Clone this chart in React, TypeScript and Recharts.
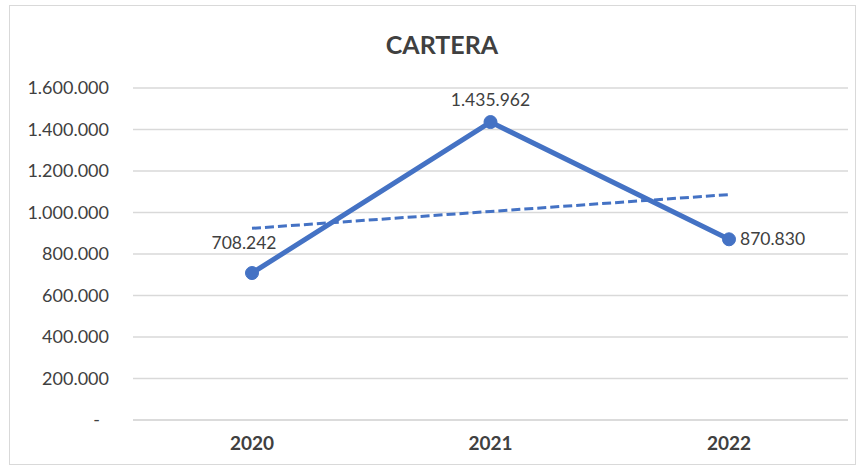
import React from "react";
import {
  LineChart,
  Line,
  XAxis,
  YAxis,
  CartesianGrid,
  LabelList,
} from "recharts";

const years = ["2020", "2021", "2022"];
const carteraValues = [708242, 1435962, 870830];
// tendencia lineal
const trendValues = [923700, 1005000, 1086300];
const yTicks = [0, 200000, 400000, 600000, 800000, 1000000, 1200000, 1400000, 1600000];

const data = years.map((year, i) => ({
  year,
  cartera: carteraValues[i],
  trend: trendValues[i],
}));

const FONT = "Lato, 'Open Sans', sans-serif";
const TEXT = "#404040";
const BLUE = "#4472C4";

function fmt(v: number) {
  return String(Math.round(v)).replace(/\B(?=(\d{3})+(?!\d))/g, ".");
}

function YTick(props: any) {
  const { x, y, payload } = props;
  const isZero = payload.value === 0;
  return (
    <text
      x={isZero ? x - 9 : x}
      y={y}
      dy="0.35em"
      textAnchor="end"
      fill={TEXT}
      fontSize={18}
      fontFamily={FONT}
    >
      {isZero ? "-" : fmt(payload.value)}
    </text>
  );
}

function PointLabel(props: any) {
  const { x, y, value, index } = props;
  let tx = x;
  let ty = y - 22;
  let anchor: "start" | "middle" | "end" = "middle";
  if (index === 0) {
    tx = x - 8;
    ty = y - 30;
  } else if (index === 2) {
    tx = x + 11;
    ty = y;
    anchor = "start";
  }
  return (
    <text
      x={tx}
      y={ty}
      dy="0.35em"
      textAnchor={anchor}
      fill={TEXT}
      fontSize={17.5}
      fontFamily={FONT}
    >
      {fmt(value)}
    </text>
  );
}

export default function App() {
  return (
    <div
      style={{
        position: "absolute",
        left: 0,
        top: 0,
        width: 859,
        height: 468,
        background: "#fff",
      }}
    >
      <div
        style={{
          position: "absolute",
          left: 9,
          top: 5,
          width: 847,
          height: 460,
          border: "1px solid #d9d9d9",
          boxSizing: "border-box",
        }}
      />
      <div
        style={{
          position: "absolute",
          left: 0,
          top: 29,
          width: 884,
          textAlign: "center",
          fontFamily: FONT,
          fontWeight: 700,
          fontSize: 25,
          color: TEXT,
        }}
      >
        CARTERA
      </div>
      <div style={{ position: "absolute", left: 0, top: 0 }}>
        <LineChart
          width={859}
          height={468}
          data={data}
          margin={{ top: 88, right: 11, bottom: 10, left: 0 }}
        >
          <CartesianGrid vertical={false} stroke="#d9d9d9" strokeWidth={1.5} />
          <XAxis
            dataKey="year"
            padding={{ left: 119, right: 119 }}
            axisLine={{ stroke: "#d9d9d9", strokeWidth: 1.5 }}
            tickLine={false}
            tickSize={0}
            tickMargin={17}
            height={38}
            tick={{ fill: TEXT, fontSize: 19, fontWeight: 700, fontFamily: FONT }}
          />
          <YAxis
            width={133}
            domain={[0, 1600000]}
            ticks={yTicks}
            axisLine={false}
            tickLine={false}
            tickSize={0}
            tickMargin={24}
            tick={<YTick />}
          />
          <Line
            dataKey="trend"
            stroke={BLUE}
            strokeWidth={3}
            strokeDasharray="9 4"
            dot={false}
            activeDot={false}
            isAnimationActive={false}
          />
          <Line
            dataKey="cartera"
            stroke={BLUE}
            strokeWidth={5}
            dot={{ r: 6.5, fill: BLUE, stroke: BLUE, strokeWidth: 1 }}
            activeDot={false}
            isAnimationActive={false}
          >
            <LabelList dataKey="cartera" content={<PointLabel />} />
          </Line>
        </LineChart>
      </div>
    </div>
  );
}
